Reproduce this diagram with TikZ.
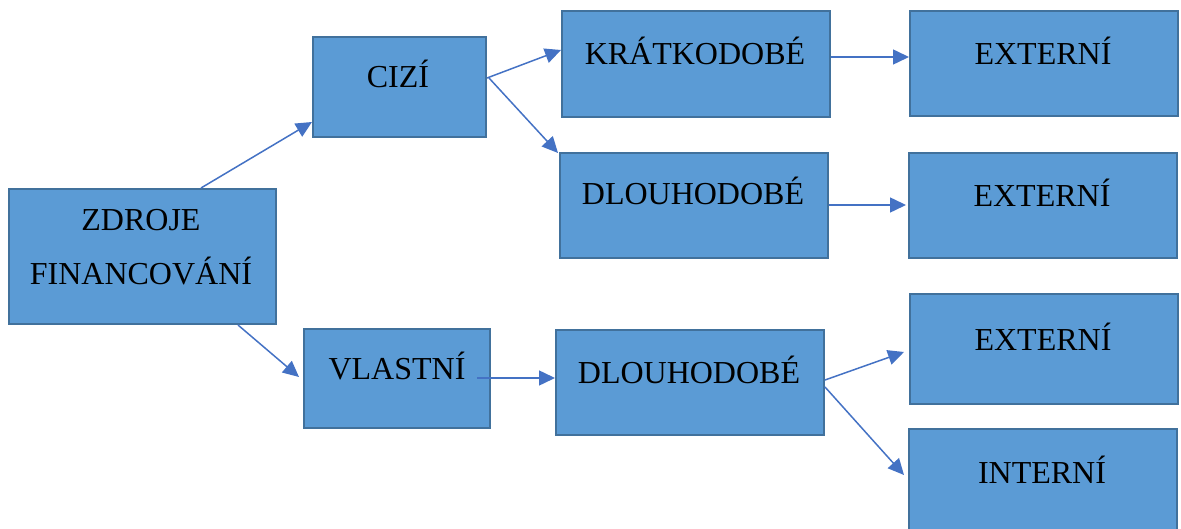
\documentclass[tikz,border=0pt]{standalone}
\usepackage{fontspec}
\setmainfont{Liberation Serif}
\usetikzlibrary{arrows.meta,calc}
\definecolor{boxfill}{HTML}{5B9BD5}
\definecolor{boxline}{HTML}{41719C}
\definecolor{arrowc}{HTML}{4472C4}
\tikzset{
  x=1pt,y=-1pt,
  boxnode/.style={draw=boxline,fill=boxfill,line width=2pt,rectangle,inner sep=0pt,anchor=north west},
  lbl/.style={anchor=base,inner sep=0pt,font=\fontsize{32}{38}\selectfont,text=black},
  conn/.style={draw=arrowc,line width=1.5pt,-{Triangle[length=16pt,width=15pt]}}
}
\begin{document}
\begin{tikzpicture}
\useasboundingbox (0,0) rectangle (1181,529);
% boxes
\node[boxnode,minimum width=267,minimum height=135] (z) at (8,188) {};
\node[boxnode,minimum width=173,minimum height=100] (c) at (312,36) {};
\node[boxnode,minimum width=268,minimum height=106] (k) at (561,10) {};
\node[boxnode,minimum width=268,minimum height=105] (d1) at (559,152) {};
\node[boxnode,minimum width=268,minimum height=105] (e1) at (909,10) {};
\node[boxnode,minimum width=268,minimum height=105] (e2) at (908,152) {};
\node[boxnode,minimum width=186,minimum height=99] (v) at (303,328) {};
\node[boxnode,minimum width=268,minimum height=105] (d2) at (555,329) {};
\node[boxnode,minimum width=268,minimum height=110] (e3) at (909,293) {};
\node[boxnode,minimum width=268,minimum height=110] (i) at (908,428) {};
% labels
\node[lbl] (zt1) at (141,231) {ZDROJE};
\node[lbl] (zt2) at (141,285) {FINANCOVÁNÍ};
\node[lbl] (ct) at (398,88) {CIZÍ};
\node[lbl] (kt) at (695,65) {KRÁTKODOBÉ};
\node[lbl] (d1t) at (693,205) {DLOUHODOBÉ};
\node[lbl] (e1t) at (1043,65) {EXTERNÍ};
\node[lbl] (e2t) at (1042,207) {EXTERNÍ};
\node[lbl] (vt) at (397,380) {VLASTNÍ};
\node[lbl] (d2t) at (689,383) {DLOUHODOBÉ};
\node[lbl] (e3t) at (1043,351) {EXTERNÍ};
\node[lbl] (it) at (1042,483) {INTERNÍ};
% connectors
\draw[conn] ($(z.north west)+(193,0)$) -- ($(c.north west)+(0,86)$);
\draw[conn] ($(z.south west)+(230,0)$) -- ($(v.north west)+(-4,49)$);
\draw[conn] ($(c.north east)+(0,42)$) -- ($(k.north west)+(0,40)$);
\draw[conn] ($(c.north east)+(2,42)$) -- ($(d1.north west)+(-1,1)$);
\draw[conn] ($(k.north east)+(0,47)$) -- ($(e1.north west)+(0,47)$);
\draw[conn] ($(d1.north east)+(0,53)$) -- ($(e2.north west)+(-2,53)$);
\draw[conn] ($(v.north east)+(-14,50)$) -- ($(d2.north west)+(0,49)$);
\draw[conn] ($(d2.north east)+(0,51)$) -- ($(e3.north west)+(-5,59)$);
\draw[conn] ($(d2.north east)+(0,58)$) -- ($(i.north west)+(-4,47)$);
\end{tikzpicture}
\end{document}
